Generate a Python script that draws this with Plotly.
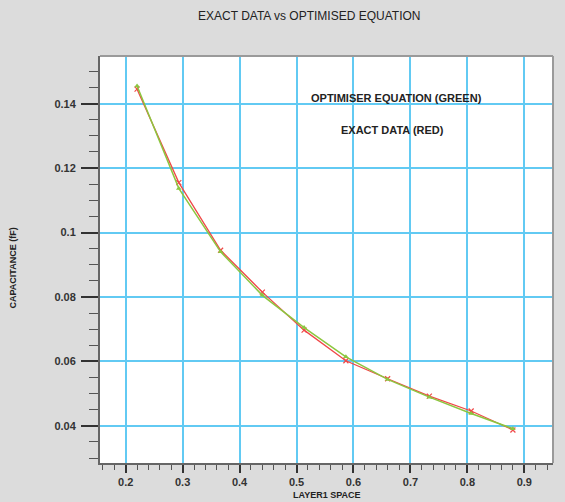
import plotly.graph_objects as go

layer_space = [0.22, 0.2933, 0.3667, 0.44, 0.5133, 0.5867, 0.66, 0.7333, 0.8067, 0.88]
exact_data = [0.1445, 0.1155, 0.0945, 0.0815, 0.0697, 0.0602, 0.0546, 0.0492, 0.0446, 0.0387]
optimiser_eq = [0.1455, 0.1137, 0.0940, 0.0805, 0.0705, 0.0614, 0.0544, 0.0489, 0.0438, 0.0391]

x_ticks = [0.2, 0.3, 0.4, 0.5, 0.6, 0.7, 0.8, 0.9]
x_ticklabels = ["0.2", "0.3", "0.4", "0.5", "0.6", "0.7", "0.8", "0.9"]
y_ticks = [0.04, 0.06, 0.08, 0.1, 0.12, 0.14]
y_ticklabels = ["0.04", "0.06", "0.08", "0.1", "0.12", "0.14"]

title_text = "EXACT DATA vs OPTIMISED EQUATION"
x_title = "LAYER1 SPACE"
y_title = "CAPACITANCE (fF)"
note_green = "OPTIMISER EQUATION (GREEN)"
note_red = "EXACT DATA (RED)"

FONT = "Liberation Sans, Arial, sans-serif"
GRID = "#62caf3"

W, H = 565, 502
L, R, T, B = 100, 553, 56, 463


def px_x(x):
    return (x - L) / (R - L)


def px_y(y):
    return 1 - (y - T) / (B - T)


fig = go.Figure()
fig.add_trace(go.Scatter(
    x=layer_space, y=exact_data, mode="lines+markers", name="Exact data",
    line=dict(color="#f04848", width=1.3),
    marker=dict(symbol="x-thin", size=5, line=dict(color="#f04848", width=1.2)),
))
fig.add_trace(go.Scatter(
    x=layer_space, y=optimiser_eq, mode="lines+markers", name="Optimiser equation",
    line=dict(color="#8cc63f", width=1.5),
    marker=dict(symbol="triangle-up", size=5, color="#8cc63f"),
))


def ann(text, x, y, size, bold=False, angle=0):
    return dict(text=("<b>%s</b>" % text) if bold else text,
                x=px_x(x), y=px_y(y), xref="paper", yref="paper",
                xanchor="center", yanchor="middle", showarrow=False, textangle=angle,
                font=dict(family=FONT, size=size, color="#222"))


fig.update_layout(
    width=W, height=H,
    margin=dict(l=L, r=W - R, t=T, b=H - B),
    paper_bgcolor="#dcdcdc",
    plot_bgcolor="white",
    showlegend=False,
    font=dict(family=FONT, color="#222"),
    annotations=[
        ann(title_text, 309, 16, 12),
        ann(note_green, 396.5, 98, 11, bold=True),
        ann(note_red, 392.5, 130, 11, bold=True),
        ann(y_title, 12.5, 268, 9, bold=True, angle=-90),
        ann(x_title, 326.5, 495.5, 9, bold=True),
    ],
)

fig.update_xaxes(
    range=[0.1549, 0.9504],
    tickvals=x_ticks, ticktext=x_ticklabels,
    showgrid=True, gridcolor=GRID, gridwidth=2,
    zeroline=False,
    showline=True, linecolor="#666", linewidth=2, mirror=False,
    ticks="outside", ticklen=8, tickwidth=2, tickcolor="#333",
    tickfont=dict(family=FONT, size=11, color="#333", weight="bold"),
    minor=dict(ticks="outside", ticklen=5, tickwidth=1.2, tickcolor="#555", dtick=0.02, tick0=0.2, showgrid=False),
    ticklabelstandoff=0,
)
fig.update_yaxes(
    range=[0.02845, 0.1548],
    tickvals=y_ticks, ticktext=y_ticklabels,
    showgrid=True, gridcolor=GRID, gridwidth=2,
    zeroline=False,
    showline=True, linecolor="#666", linewidth=2, mirror=False,
    ticks="outside", ticklen=17, tickwidth=2, tickcolor="#333",
    tickfont=dict(family=FONT, size=11, color="#333", weight="bold"),
    minor=dict(ticks="outside", ticklen=9, tickwidth=1.2, tickcolor="#555", dtick=0.005, tick0=0.04, showgrid=False),
    ticklabelstandoff=3,
)

# top and right frame
fig.add_shape(type="line", xref="x domain", yref="y domain", x0=0, x1=1, y0=1, y1=1,
              line=dict(color="#9a9a9a", width=2))
fig.add_shape(type="line", xref="x domain", yref="y domain", x0=1, x1=1, y0=0, y1=1,
              line=dict(color="#9a9a9a", width=2))

fig.write_html("out.html", config={"displayModeBar": False},
               post_script="document.body.style.margin='0';document.body.style.overflow='hidden';")
